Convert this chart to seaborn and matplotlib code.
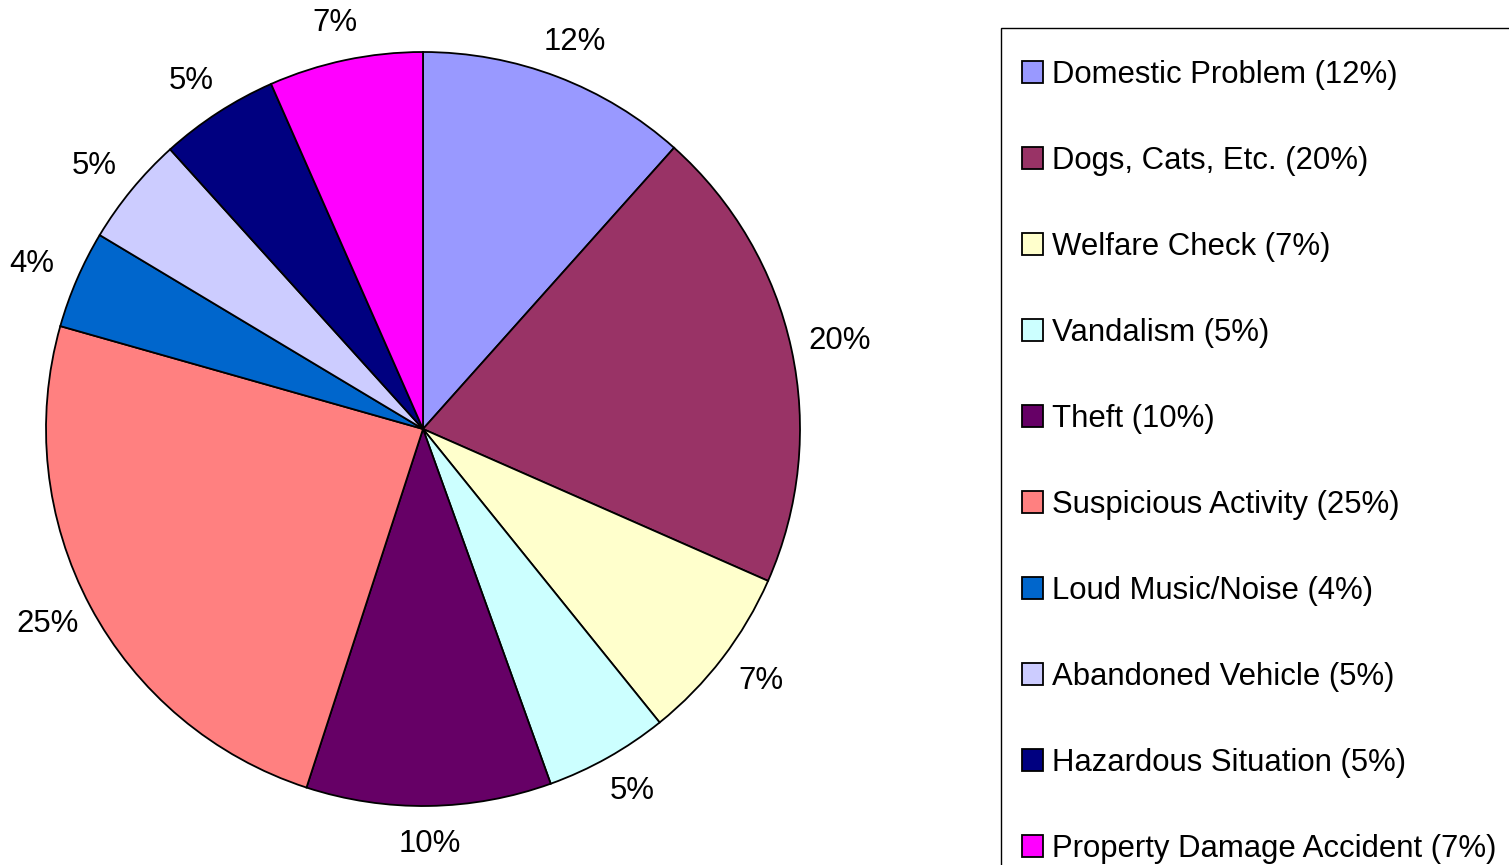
import matplotlib
matplotlib.use("Agg")
import numpy as np
import matplotlib.pyplot as plt
import matplotlib.patches as mpatches
import seaborn as sns

categories = ["Domestic Problem", "Dogs, Cats, Etc.", "Welfare Check", "Vandalism", "Theft",
              "Suspicious Activity", "Loud Music/Noise", "Abandoned Vehicle",
              "Hazardous Situation", "Property Damage Accident"]
values = [11.6, 20.0, 7.6, 5.3, 10.5, 24.4, 4.2, 4.7, 5.1, 6.6]
pct_labels = ["12%", "20%", "7%", "5%", "10%", "25%", "4%", "5%", "5%", "7%"]
colors = ["#9999FF", "#993366", "#FFFFCC", "#CCFFFF", "#660066",
          "#FF8080", "#0066CC", "#CCCCFF", "#000080", "#FF00FF"]

sns.set_theme(style="white")
plt.rcParams["font.family"] = ["Liberation Sans", "DejaVu Sans"]
plt.rcParams["text.color"] = "black"

FS = 22.4
W, H = 1509, 865
fig = plt.figure(figsize=(W / 100, H / 100), dpi=100)
cx, cy, r = 423, 429, 377
ax = fig.add_axes([(cx - r) / W, (H - cy - r) / H, 2 * r / W, 2 * r / H])

palette = sns.color_palette(colors)
wedges, texts = ax.pie(values, labels=pct_labels, colors=palette, startangle=90,
                       counterclock=False, radius=1, labeldistance=1.13,
                       wedgeprops=dict(edgecolor="black", linewidth=1.3),
                       textprops=dict(fontsize=FS, color="black"))
# place labels on a slightly flattened ring around the pie
for w, t in zip(wedges, texts):
    mid = np.deg2rad((w.theta1 + w.theta2) / 2)
    t.set_position((1.13 * np.cos(mid), 1.10 * np.sin(mid)))
    t.set_ha("center")
    t.set_va("center")
for w in wedges:
    w.set_clip_on(False)
ax.set_xlim(-1, 1)
ax.set_ylim(-1, 1)
ax.set_aspect("equal")
ax.axis("off")

leg_labels = [f"{c} ({p})" for c, p in zip(categories, pct_labels)]
leg = fig.legend(wedges, leg_labels, loc="upper left",
                 bbox_to_anchor=(1022 / W, 1 - 60 / H), bbox_transform=fig.transFigure,
                 frameon=False, fontsize=FS, borderpad=0, borderaxespad=0,
                 handlelength=0.69, handleheight=0.69, handletextpad=0.26,
                 labelspacing=1.80, labelcolor="black")

frame = mpatches.Rectangle((1001 / W, -0.1), 1.0, (H - 28) / H + 0.1,
                           transform=fig.transFigure, fill=False,
                           edgecolor="black", linewidth=1.0)
fig.add_artist(frame)

fig.savefig("out.png", dpi=100, facecolor="white")
